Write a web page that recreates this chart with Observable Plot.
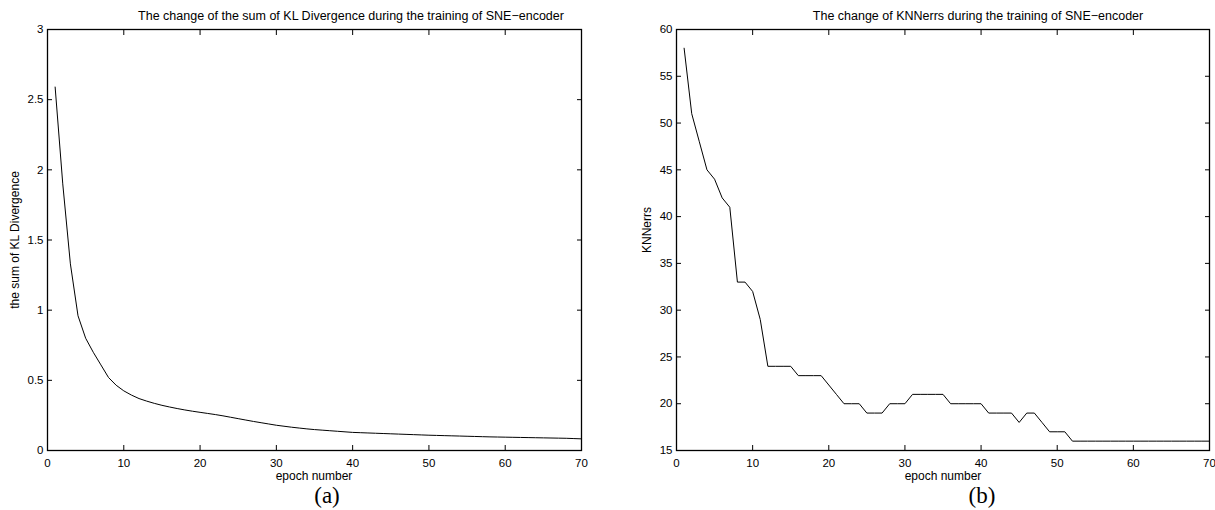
<!DOCTYPE html>
<html><head><meta charset="utf-8">
<script src="https://cdn.jsdelivr.net/npm/d3@7"></script>
<script src="https://cdn.jsdelivr.net/npm/@observablehq/plot@0.6"></script>
<style>
html,body{margin:0;padding:0;background:#fff;}
body{width:1215px;height:510px;overflow:hidden;position:relative;font-family:"Liberation Sans",Arial,Helvetica,sans-serif;color:#000;}
.abs{position:absolute;white-space:nowrap;color:#000;}
.tt{font-size:12.5px;transform:translate(-50%,-50%);line-height:1;}
.t{font-size:12px;transform:translate(-50%,-50%);line-height:1;}
.cap{font-family:"Liberation Serif","Times New Roman",serif;font-size:23px;transform:translate(-50%,-50%);line-height:1;}
.yl{font-size:12px;transform:translate(-50%,-50%) rotate(-90deg);line-height:1;}
</style></head><body>
<div id="left" class="abs" style="left:0;top:0"></div>
<div id="right" class="abs" style="left:600px;top:0"></div>
<div class="abs tt" style="left:351px;top:16px">The change of the sum of KL Divergence during the training of SNE−encoder</div>
<div class="abs tt" style="left:978px;top:16px">The change of KNNerrs during the training of SNE−encoder</div>
<div class="abs t" style="left:314px;top:476px">epoch number</div>
<div class="abs t" style="left:943px;top:476px">epoch number</div>
<div class="abs cap" style="left:327px;top:495px">(a)</div>
<div class="abs cap" style="left:982px;top:495px">(b)</div>
<div class="abs yl" style="left:15px;top:240px">the sum of KL Divergence</div>
<div class="abs yl" style="left:647px;top:230px">KNNerrs</div>
<script>
const epochs = [1,2,3,4,5,6,7,8,9,10,11,12,13,14,15,16,17,18,19,20,
  21,22,23,24,25,26,27,28,29,30,31,32,33,34,35,36,37,38,39,40,
  41,42,43,44,45,46,47,48,49,50,51,52,53,54,55,56,57,58,59,60,
  61,62,63,64,65,66,67,68,69,70];
const klSum = [2.59,1.90,1.33,0.96,0.80,0.70,0.61,0.52,0.465,0.425,
  0.395,0.37,0.352,0.336,0.322,0.310,0.299,0.289,0.280,0.272,
  0.264,0.256,0.247,0.237,0.227,0.217,0.207,0.198,0.189,0.180,
  0.173,0.166,0.160,0.154,0.149,0.145,0.141,0.137,0.133,0.129,
  0.127,0.125,0.123,0.121,0.119,0.117,0.115,0.113,0.111,0.109,
  0.1075,0.106,0.1045,0.103,0.1015,0.100,0.0985,0.097,0.096,0.095,
  0.094,0.093,0.092,0.091,0.090,0.089,0.088,0.087,0.085,0.083];
const knnErrs = [58,51,48,45,44,42,41,33,33,32,
  29,24,24,24,24,23,23,23,23,22,
  21,20,20,20,19,19,19,20,20,20,
  21,21,21,21,21,20,20,20,20,20,
  19,19,19,19,18,19,19,18,17,17,
  17,16,16,16,16,16,16,16,16,16,
  16,16,16,16,16,16,16,16,16,16];
const xTicks = [0,10,20,30,40,50,60,70];
const klTicks = [0,0.5,1,1.5,2,2.5,3];
const knnTicks = [15,20,25,30,35,40,45,50,55,60];
const xDomain = [0,70];
const klDomain = [0,3];
const knnDomain = [15,60];

function panel(values, yDomain, yTicks, width, marginLeft, marginRight) {
  const data = epochs.map((e, i) => ({epoch: e, v: values[i]}));
  return Plot.plot({
    width, height: 470, marginLeft, marginRight, marginTop: 29, marginBottom: 20,
    style: {fontFamily: "'Liberation Sans', Arial, Helvetica, sans-serif", fontSize: "11.5px", color: "#000", background: "#fff", overflow: "visible"},
    x: {domain: xDomain},
    y: {domain: yDomain},
    marks: [
      Plot.axisX(xTicks, {anchor: "bottom", tickSize: -5, tickPadding: 13, tickFormat: d => String(d), label: null}),
      Plot.axisX(xTicks, {anchor: "top", tickSize: -5, fill: "none", label: null}),
      Plot.axisY(yTicks, {anchor: "left", tickSize: -5, tickPadding: 9, tickFormat: d => String(d), label: null}),
      Plot.axisY(yTicks, {anchor: "right", tickSize: -5, fill: "none", label: null}),
      Plot.frame({stroke: "#000", strokeWidth: 1.3}),
      Plot.line(data, {x: "epoch", y: "v", stroke: "#000", strokeWidth: 1})
    ]
  });
}
document.getElementById("left").append(panel(klSum, klDomain, klTicks, 600, 47, 19));
document.getElementById("right").append(panel(knnErrs, knnDomain, knnTicks, 615, 76, 6));
</script>
</body></html>
